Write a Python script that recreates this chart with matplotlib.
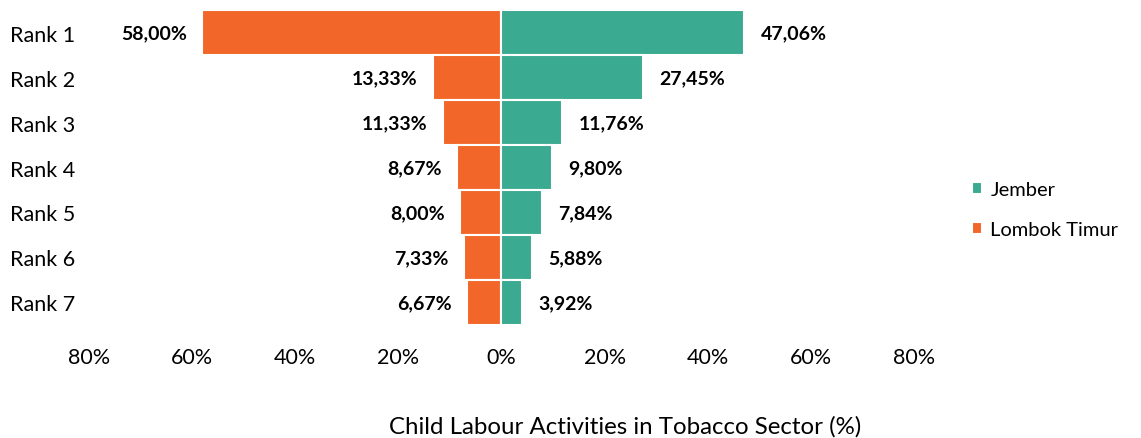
import numpy as np
import matplotlib.pyplot as plt
from matplotlib.ticker import FuncFormatter

plt.rcParams['font.family'] = ['Lato', 'DejaVu Sans']

ranks = ['Rank 1', 'Rank 2', 'Rank 3', 'Rank 4', 'Rank 5', 'Rank 6', 'Rank 7']
jember = [47.06, 27.45, 11.76, 9.80, 7.84, 5.88, 3.92]
lombok = [58.00, 13.33, 11.33, 8.67, 8.00, 7.33, 6.67]

c_jember = '#3AAA90'
c_lombok = '#F26729'

fig = plt.figure(figsize=(11.41, 4.39), dpi=100)
ax = fig.add_axes([0.078, 0.258, 0.723, 0.716])

y = np.arange(len(ranks))
ax.barh(y, [-v for v in lombok], height=1.0, color=c_lombok, edgecolor='white', linewidth=1.5, label='Lombok Timur')
ax.barh(y, jember, height=1.0, color=c_jember, edgecolor='white', linewidth=1.5, label='Jember')

def fmt(v):
    return ('%.2f%%' % v).replace('.', ',')

for i in range(len(ranks)):
    ax.annotate(fmt(lombok[i]), (-lombok[i], y[i]), xytext=(-11, 0), textcoords='offset points',
                ha='right', va='center', fontsize=14, fontweight='bold')
    ax.annotate(fmt(jember[i]), (jember[i], y[i]), xytext=(12, 0), textcoords='offset points',
                ha='left', va='center', fontsize=14, fontweight='bold')

ax.set_xlim(-80, 80)
ax.set_ylim(len(ranks) - 0.5, -0.5)
ax.set_xticks(np.arange(-80, 81, 20))
ax.xaxis.set_major_formatter(FuncFormatter(lambda v, p: '%d%%' % abs(v)))
ax.set_yticks(y)
ax.set_yticklabels(ranks)
ax.tick_params(axis='x', length=0, pad=16, labelsize=15.5)
ax.tick_params(axis='y', length=0, pad=57, labelsize=15.5)
for lab in ax.get_yticklabels():
    lab.set_horizontalalignment('left')
for s in ax.spines.values():
    s.set_visible(False)

fig.text(625 / 1141, 1 - 427 / 439, 'Child Labour Activities in Tobacco Sector (%)', ha='center', va='center', fontsize=17.3)

h, l = ax.get_legend_handles_labels()
ax.legend(h[::-1], l[::-1], loc='center left', bbox_to_anchor=(0.845, 0.52), bbox_transform=fig.transFigure,
          frameon=False, fontsize=14.5, borderaxespad=0, handlelength=0.5, handleheight=0.5,
          handletextpad=0.4, labelspacing=1.15)

fig.savefig('out.png')
